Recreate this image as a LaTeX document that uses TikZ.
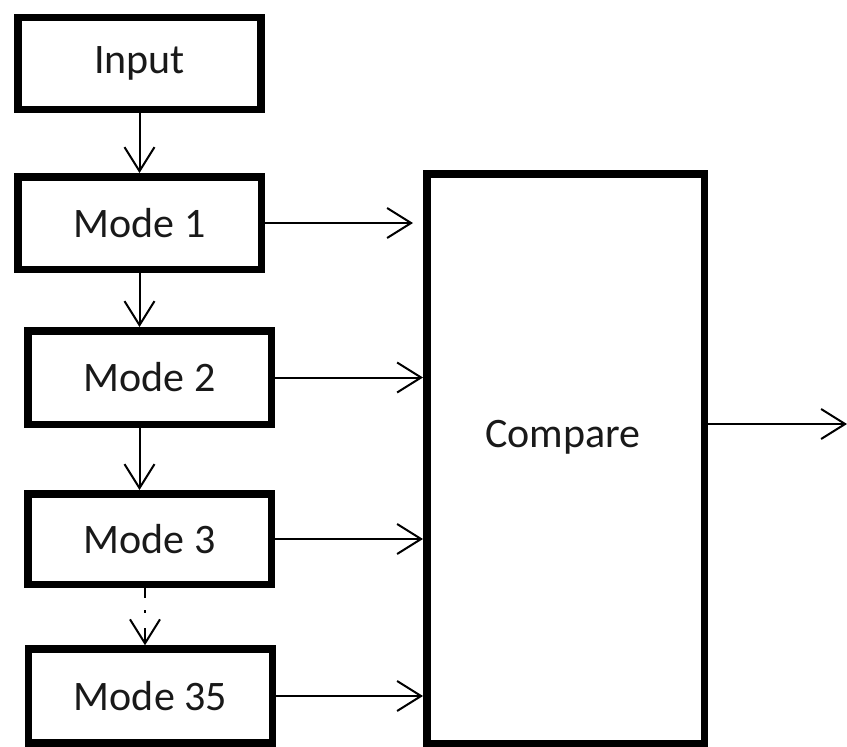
\documentclass[tikz,border=0pt]{standalone}
\usepackage{fontspec}
\setmainfont{Carlito}
\usetikzlibrary{arrows.meta,calc}
\begin{document}
\begin{tikzpicture}[x=1pt,y=-1pt,
  txt/.style={font=\fontsize{42}{50}\selectfont, text=black!90},
  box/.style={draw, line width=7.5pt, inner sep=0pt, txt},
  flow/.style={line width=2pt, -{Straight Barb[length=24pt,width=30pt,line width=2pt]}}]
\useasboundingbox (0,0) rectangle (847,747);

% processing chain
\node[box, minimum width=243pt, minimum height=92pt]   (in)  at (139.5,63.5) {Input};
\node[box, minimum width=243.5pt, minimum height=92.5pt] (m1) at (139.5,223) {Mode 1};
\node[box, minimum width=243.5pt, minimum height=93.5pt] (m2) at (149.5,377.5) {Mode 2};
\node[box, minimum width=243.5pt, minimum height=90.5pt] (m3) at (149.5,539) {Mode 3};
\node[box, minimum width=244pt, minimum height=94pt]   (m35) at (150.5,696) {Mode 35};

% comparison block
\node[box, minimum width=277.5pt, minimum height=569.5pt] (cmp) at (565.5,458.5) {};
\node[txt] (cmplabel) at (563,437) {Compare};
\coordinate (out) at (847,424);

% vertical flow
\draw[flow] (in.south) -- (in.south |- m1.north);
\draw[flow] (m1.south) -- (m1.south |- m2.north);
\draw[flow] (m2.south -| in.south) -- (in.south |- m3.north);
\draw[flow, dash pattern=on 10pt off 12pt on 3pt off 15pt on 40pt]
  ([xshift=-4.5pt]m3.south) -- ([xshift=-4.5pt]m3.south |- m35.north);

% inputs to the comparison
\draw[flow] (m1.east) -- ($(m1.east -| cmp.west)+(-10,0)$);
\draw[flow] (m2.east) -- (m2.east -| cmp.west);
\draw[flow] (m3.east) -- (m3.east -| cmp.west);
\draw[flow] (m35.east) -- (m35.east -| cmp.west);

% output
\draw[flow] (cmp.east |- out) -- (out);
\end{tikzpicture}
\end{document}
